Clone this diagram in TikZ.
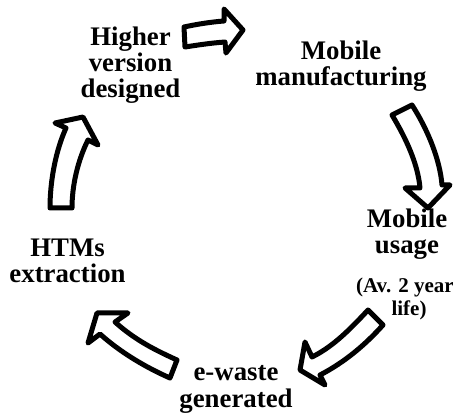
\documentclass[tikz,border=0pt]{standalone}
\usepackage{fontspec}
\setmainfont{Liberation Serif}
\tikzset{
  lbl/.style={anchor=base, align=center, inner sep=0pt, font=\bfseries\fontsize{26.8}{26.3}\selectfont},
  sublbl/.style={anchor=base, align=center, inner sep=0pt, font=\bfseries\fontsize{21}{23}\selectfont},
  blockarrow/.style={draw=black, fill=white, line width=5pt, line join=round}
}
\begin{document}
\begin{tikzpicture}[x=1pt,y=-1pt]
\useasboundingbox (0,0) rectangle (453,414);
\clip (0,0) rectangle (453,414);
% arrow 1 (top)
\draw[blockarrow] (184,27) .. controls (198,24) and (211,22) .. (224,21)
  -- (224,9) -- (243,30) -- (226,53) -- (225,42)
  .. controls (211,43) and (198,45) .. (185,47) -- cycle;
% arrow 2 (right)
\draw[blockarrow] (412,105) .. controls (428,130) and (440,160) .. (442,185)
  -- (450,185) -- (428,208) -- (405,188) -- (420,188)
  .. controls (418,165) and (407,140) .. (392,115) -- cycle;
% arrow 3 (bottom right)
\draw[blockarrow] (383,325) .. controls (365,345) and (345,362) .. (320,375)
  -- (325,385) -- (300,370) -- (305,342) -- (312,357)
  .. controls (330,348) and (345,335) .. (368,310) -- cycle;
% arrow 4 (bottom left)
\draw[blockarrow] (170,378) .. controls (145,367) and (120,352) .. (100,334)
  -- (88,343) -- (97,313) -- (128,313) -- (115,322)
  .. controls (135,340) and (155,350) .. (177,360) -- cycle;
% arrow 5 (left)
\draw[blockarrow] (50,208) .. controls (50,180) and (56,150) .. (66,128)
  -- (55,123) -- (83,117) -- (98,145) -- (88,140)
  .. controls (78,160) and (72,185) .. (72,208) -- cycle;
% labels (anchor = baseline of last line)
\node[lbl] (hv) at (130.5,98) {Higher\\version\\designed};
\node[lbl] (mm) at (341,86) {Mobile\\manufacturing};
\node[lbl] (mu) at (407,254) {Mobile\\usage};
\node[sublbl] (av) at (409,316) {(Av. 2 years\\life)};
\node[lbl] (ew) at (236,407) {e-waste\\generated};
\node[lbl] (htm) at (67.5,283) {HTMs\\extraction};
\end{tikzpicture}
\end{document}
